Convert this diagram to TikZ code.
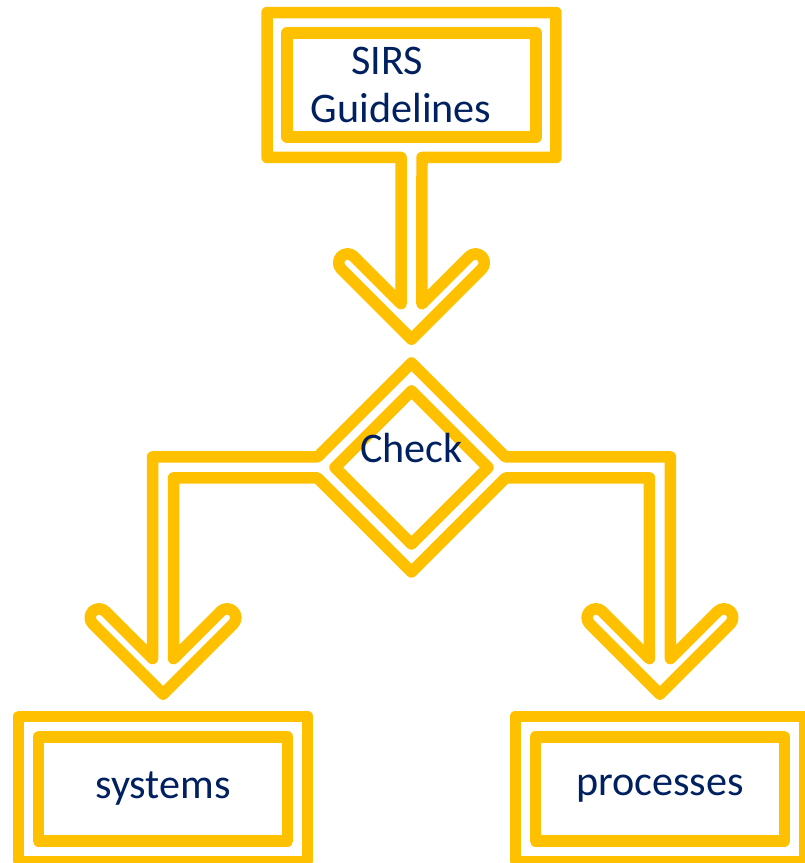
\documentclass[tikz,border=0pt]{standalone}
\usepackage{fontspec}
\setmainfont{Carlito}
\usepackage{tikz}
\usetikzlibrary{positioning, calc, shapes.geometric}
\usepackage{xcolor}
\definecolor{amber}{HTML}{FFC000}
\definecolor{inkblue}{HTML}{002060}

\begin{document}
\begin{tikzpicture}[x=0.02cm, y=-0.02cm,
                  goldline/.style={draw=amber, line width=0.23cm, line join=round},
                  txt/.style={font=\fontsize{24}{27.5}\selectfont, text=inkblue},
                  box/.style={goldline, txt, rectangle, minimum width=4.98cm, minimum height=2.08cm,
                              inner sep=0pt, outer sep=0pt, align=center},
                  boxframe/.style={rectangle, minimum width=5.78cm, minimum height=2.9cm,
                              inner sep=0pt, outer sep=0pt},
                  decision/.style={goldline, diamond, minimum size=3.06cm, inner sep=0pt, outer sep=0pt},
                  decisionframe/.style={diamond, minimum size=4.18cm, inner sep=0pt, outer sep=0pt},
                  hollowhead/.style={insert path={-- ++(-47.25,-47.25)
                              arc[start angle=315, end angle=135, radius=8.85]
                              -- ++(70.25,70.25) -- ++(70.25,-70.25)
                              arc[start angle=45, end angle=-135, radius=8.85]
                              -- ++(-47.25,47.25)}},
                  node distance=6.43cm and 4.97cm, on grid,
            ]
            \useasboundingbox (0,0) rectangle (805,863);

            \node[boxframe] (sirsframe) at (411.5,85) {};
            \node[decisionframe, below=7.65cm of sirsframe] (checkframe) {};
            \node[boxframe, goldline, below left=of checkframe] (sysframe) {};
            \node[boxframe, goldline, below right=of checkframe] (procframe) {};

            \node[box] (sirs) at (sirsframe) {SIRS\hspace*{0.98cm}\\Guidelines\hspace*{0.41cm}};
            \node[decision, label={[txt, yshift=0.39cm]center:Check}] (check) at (checkframe) {};
            \node[box] (systems) at (sysframe) {systems};
            \node[box] (processes) at (procframe) {processes};

            % outer frame of the guidelines box runs into the first arrow
            \draw[goldline] ($(sirsframe.south)+(10.5,0)$) -- (sirsframe.south east) -- (sirsframe.north east)
                  -- (sirsframe.north west) -- (sirsframe.south west) -- ($(sirsframe.south)+(-10.5,0)$)
                  -- ($(checkframe.north)+(-10.5,-59.25)$) [hollowhead] -- cycle;

            % outer diamond with both branches
            \draw[goldline] (checkframe.north) -- ($(checkframe.west)+(10.5,-10.5)$)
                  -| ($(sysframe.north)+(-10.5,-57.75)$) [hollowhead]
                  |- ($(checkframe.west)+(10.5,10.5)$) -- (checkframe.south)
                  -- ($(checkframe.east)+(-10.5,10.5)$)
                  -| ($(procframe.north)+(-10.5,-57.75)$) [hollowhead]
                  |- ($(checkframe.east)+(-10.5,-10.5)$) -- cycle;

      \end{tikzpicture}
\end{document}
